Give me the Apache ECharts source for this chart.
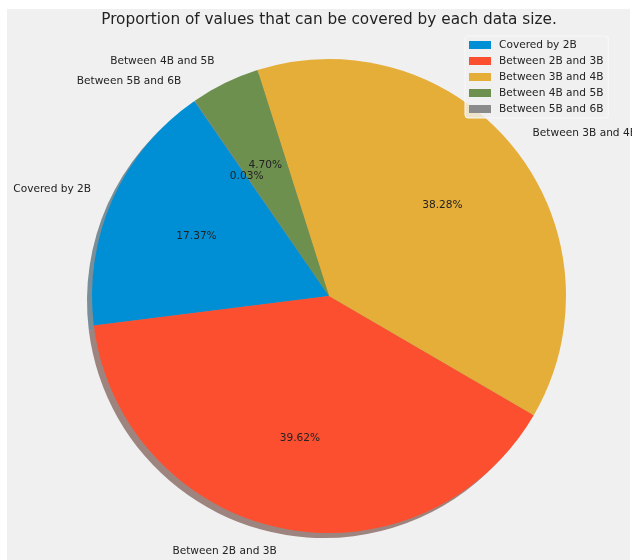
<!DOCTYPE html>
<html>
<head>
<meta charset="utf-8">
<script src="https://cdn.jsdelivr.net/npm/echarts@6/dist/echarts.min.js"></script>
<style>
  html, body { margin: 0; padding: 0; background: #ffffff; }
  #wrap { position: relative; width: 632px; height: 560px; background: #ffffff; overflow: hidden; }
  #bg { position: absolute; left: 7px; top: 9px; width: 623px; height: 551px; background: #f0f0f0; }
  #chart { position: absolute; left: 0; top: 0; width: 632px; height: 560px; }
</style>
</head>
<body>
<div id="wrap"><div id="bg"></div><div id="chart"></div></div>
<script>
// ---- data ----
const titleText = 'Proportion of values that can be covered by each data size.';
const categories = ['Covered by 2B', 'Between 2B and 3B', 'Between 3B and 4B', 'Between 4B and 5B', 'Between 5B and 6B'];
const values = [17.37, 39.62, 38.28, 4.70, 0.03];
const colors = ['#008fd5', '#fc4f30', '#e5ae38', '#6d904f', '#8b8b8b'];

// ---- layout constants ----
const CX = 329, CY = 296, R = 237;
const FONT = 'DejaVu Sans';
const FS = 10.6;
const TXT = '#222222';

function shade(hex) {
  const n = parseInt(hex.slice(1), 16);
  const r = Math.round(((n >> 16) & 255) * 0.3);
  const g = Math.round(((n >> 8) & 255) * 0.3);
  const b = Math.round((n & 255) * 0.3);
  return 'rgba(' + r + ',' + g + ',' + b + ',0.5)';
}

const mainData = categories.map((c, i) => ({ name: c, value: values[i], itemStyle: { color: colors[i] } }));
const shadowData = categories.map((c, i) => ({ name: c, value: values[i], itemStyle: { color: shade(colors[i]) } }));
const pctData = categories.map((c, i) => ({ name: c, value: values[i], itemStyle: { color: 'rgba(0,0,0,0)' } }));

const chart = echarts.init(document.getElementById('chart'), null, { renderer: 'canvas' });
chart.setOption({
  backgroundColor: 'transparent',
  animation: false,
  title: {
    text: titleText,
    left: CX,
    top: 11,
    padding: 0,
    textAlign: 'center',
    textStyle: { fontFamily: FONT, fontSize: 15.3, fontWeight: 'normal', color: TXT, lineHeight: 18 }
  },
  legend: {
    orient: 'vertical',
    left: 465,
    top: 36,
    padding: [1, 5, 1, 4],
    itemGap: 0,
    itemWidth: 22,
    itemHeight: 8,
    icon: 'rect',
    backgroundColor: 'rgba(240,240,240,0.8)',
    borderColor: '#f8f8f8',
    borderWidth: 1,
    borderRadius: 3,
    data: categories,
    textStyle: { fontFamily: FONT, fontSize: FS, color: TXT, lineHeight: 16, padding: [0, 0, 0, 3] }
  },
  series: [
    {
      type: 'pie',
      name: 'main',
      z: 3,
      center: [CX, CY],
      radius: R,
      startAngle: 124.6,
      clockwise: false,
      avoidLabelOverlap: false,
      minShowLabelAngle: 0,
      emphasis: { scale: false },
      data: mainData,
      labelLayout: { hideOverlap: false },
      label: {
        show: true,
        position: 'outside',
        formatter: '{b}',
        fontFamily: FONT,
        fontSize: FS,
        color: TXT,
        distanceToLabelLine: 0
      },
      labelLine: { show: false, length: R * 0.1, length2: 0 }
    },
    {
      type: 'pie',
      name: 'shadow',
      z: 1,
      silent: true,
      legendHoverLink: false,
      center: [CX - 5, CY + 5],
      radius: R,
      startAngle: 124.6,
      clockwise: false,
      data: shadowData,
      label: { show: false },
      labelLine: { show: false }
    },
    {
      type: 'pie',
      name: 'pct',
      z: 4,
      silent: true,
      legendHoverLink: false,
      center: [CX, CY],
      radius: [R * 0.2, R],
      startAngle: 124.6,
      clockwise: false,
      avoidLabelOverlap: false,
      minShowLabelAngle: 0,
      labelLayout: { hideOverlap: false },
      data: pctData,
      label: {
        show: true,
        position: 'inside',
        overflow: 'none',
        formatter: p => p.value.toFixed(2) + '%',
        fontFamily: FONT,
        fontSize: FS,
        color: TXT
      },
      labelLine: { show: false }
    }
  ]
});
</script>
</body>
</html>
